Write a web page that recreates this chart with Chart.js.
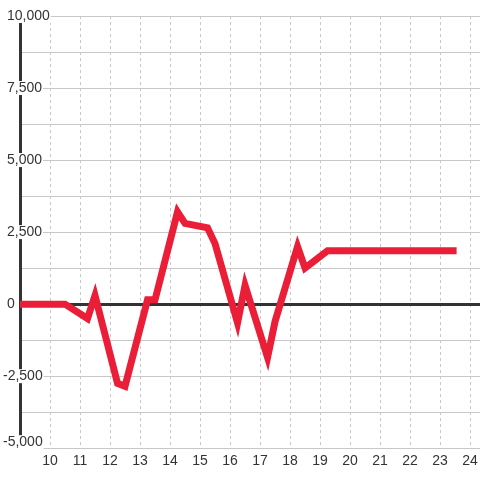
<!DOCTYPE html>
<html>
<head>
<meta charset="utf-8">
<script src="https://cdn.jsdelivr.net/npm/chart.js@4/dist/chart.umd.min.js"></script>
<style>
  html, body { margin: 0; padding: 0; background: #fff; }
  #wrap { width: 480px; height: 480px; }
</style>
</head>
<body>
<div id="wrap"><canvas id="chart" width="480" height="480"></canvas></div>
<script>
const xValues = [8.9, 10.5, 11.25, 11.5, 12.25, 12.5, 13.25, 13.5, 14.25, 14.5, 15.25, 15.5, 16.25, 16.5, 17.25, 17.5, 18.25, 18.5, 19.25, 23.55];
const yValues = [0, 0, -500, 300, -2750, -2850, 150, 150, 3200, 2800, 2650, 2100, -650, 650, -1850, -600, 2000, 1250, 1850, 1850];
const xTicks = [10, 11, 12, 13, 14, 15, 16, 17, 18, 19, 20, 21, 22, 23, 24];
const yLabels = [-5000, -2500, 0, 2500, 5000, 7500, 10000];

const points = xValues.map((x, i) => ({ x: x, y: yValues[i] }));
const labelFont = '14px "Liberation Sans", Arial, sans-serif';

// y labels sit over the axis line with a white box behind them
const yLabelPlugin = {
    id: 'yLabels',
    beforeDatasetsDraw(chart) {
        const c = chart.ctx;
        const y = chart.scales.y;
        const area = chart.chartArea;
        c.save();
        c.font = labelFont;
        c.textAlign = 'left';
        c.textBaseline = 'middle';
        yLabels.forEach(v => {
            const text = v.toLocaleString('en-US');
            const w = c.measureText(text).width;
            const lx = v < 0 ? 3 : 7;
            const ly = Math.min(y.getPixelForValue(v), area.bottom - 6);
            c.fillStyle = '#fff';
            c.fillRect(lx - 1, ly - 7, w + 2, 14);
            c.fillStyle = '#333';
            c.fillText(text, lx, ly);
        });
        c.restore();
    }
};

const ctx = document.getElementById('chart').getContext('2d');
new Chart(ctx, {
    type: 'line',
    data: {
        datasets: [{
            data: points,
            borderColor: '#ea1e37',
            borderWidth: 7,
            pointRadius: 0,
            tension: 0,
            fill: false
        }]
    },
    options: {
        responsive: false,
        animation: false,
        layout: { padding: { top: 16, left: 20, right: 0, bottom: 5 } },
        plugins: { legend: { display: false }, tooltip: { enabled: false } },
        scales: {
            x: {
                type: 'linear',
                min: 9,
                max: 24.33,
                afterFit: s => { s.paddingLeft = 0; s.paddingRight = 0; },
                ticks: {
                    stepSize: 1,
                    includeBounds: false,
                    autoSkip: false,
                    maxRotation: 0,
                    padding: 5,
                    color: '#333',
                    font: { family: 'Liberation Sans, Arial, sans-serif', size: 14 },
                    callback: v => xTicks.includes(v) ? String(v) : ''
                },
                grid: { color: '#c8c8c8', lineWidth: 1, drawTicks: false },
                border: { display: false, dash: [3, 3] }
            },
            y: {
                min: -5000,
                max: 10000,
                ticks: { stepSize: 1250, display: false },
                grid: {
                    drawTicks: false,
                    color: c => c.tick && c.tick.value === 0 ? '#333' : '#c8c8c8',
                    lineWidth: c => c.tick && c.tick.value === 0 ? 3 : 1
                },
                border: { display: true, color: '#333', width: 3 }
            }
        }
    },
    plugins: [yLabelPlugin]
});
</script>
</body>
</html>
